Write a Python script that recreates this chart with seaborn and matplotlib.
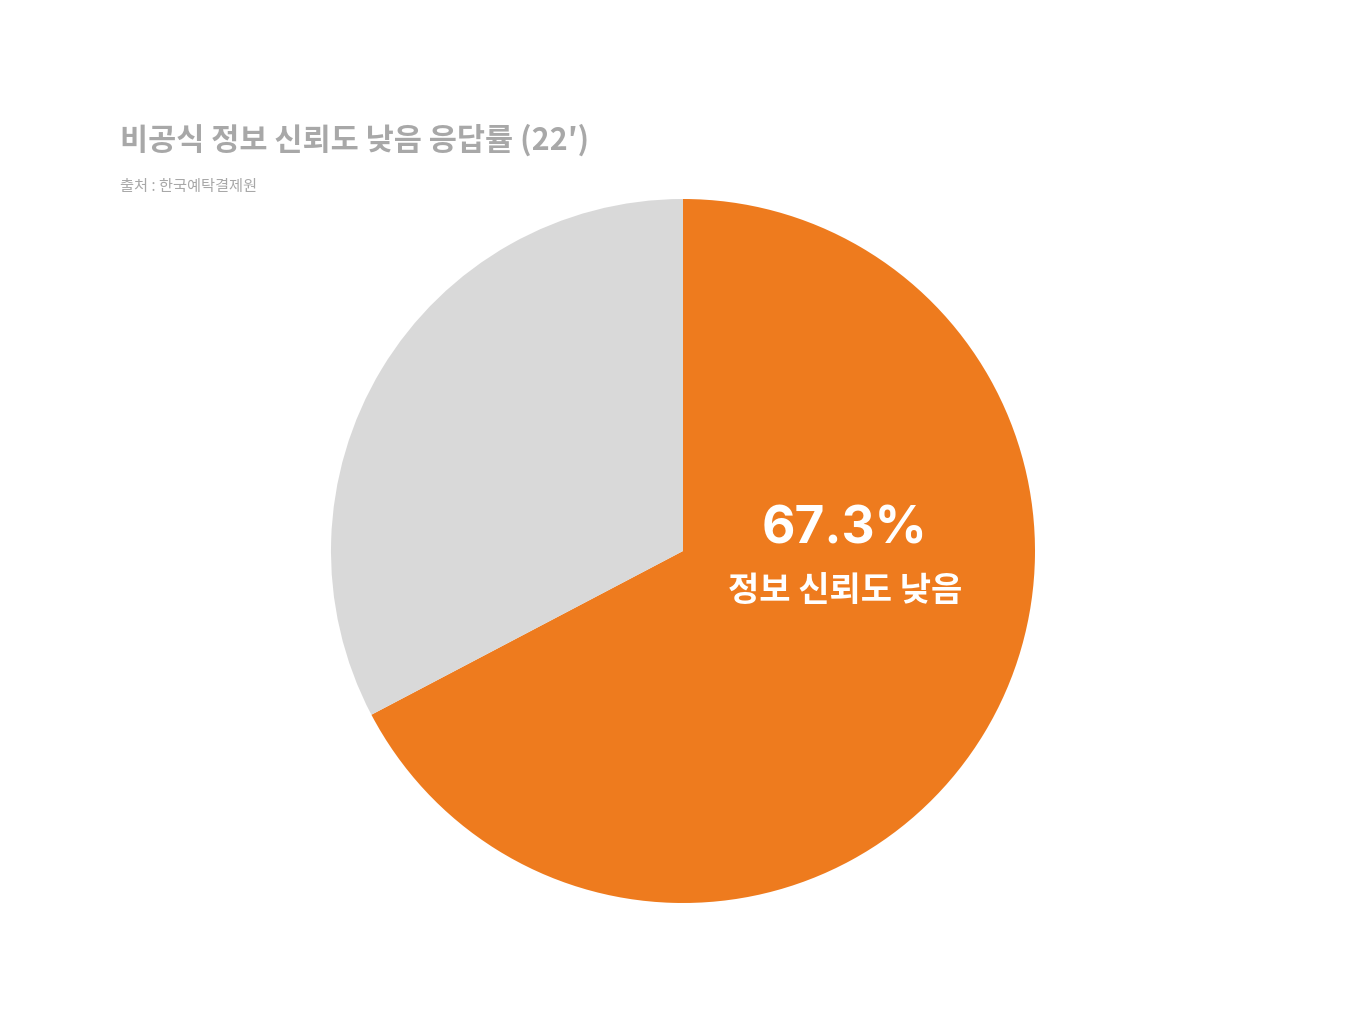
import matplotlib
matplotlib.use("Agg")
import matplotlib.pyplot as plt
import seaborn as sns

# Data
labels = ["정보 신뢰도 낮음", "기타"]
shares = [67.3, 32.7]
colors = ["#EE7B1E", "#D9D9D9"]

title = "비공식 정보 신뢰도 낮음 응답률 (22′)"
source = "출처 : 한국예탁결제원"

sns.set_theme(style="white")
plt.rcParams['font.family'] = ['Noto Sans CJK KR', 'DejaVu Sans']

fig = plt.figure(figsize=(13.66, 10.24), dpi=100)
fig.patch.set_facecolor("white")

# pie centred at (683, 551) px with radius 352 px
ax = fig.add_axes([331 / 1366, 121 / 1024, 704 / 1366, 704 / 1024])
ax.pie(shares, colors=colors, startangle=90, counterclock=False,
       radius=1.0, wedgeprops=dict(linewidth=0))
ax.set_xlim(-1, 1)
ax.set_ylim(-1, 1)
ax.set_aspect("equal")
ax.axis("off")

# label inside the main slice
ax.text(0.46, 0.06, f"{shares[0]:.1f}%", color="white", fontsize=37,
        fontweight="bold", ha="center", va="center",
        family=['Inter', 'Noto Sans CJK KR'])
ax.text(0.46, -0.112, labels[0], color="white", fontsize=24.5,
        fontweight="bold", ha="center", va="center")

fig.text(120 / 1366, 1 - 140 / 1024, title, color="#A8A8A8", fontsize=22,
         fontweight="bold", ha="left", va="center")
fig.text(120 / 1366, 1 - 186 / 1024, source, color="#A8A8A8", fontsize=11,
         ha="left", va="center")

fig.savefig("out.png", dpi=100, facecolor="white")
